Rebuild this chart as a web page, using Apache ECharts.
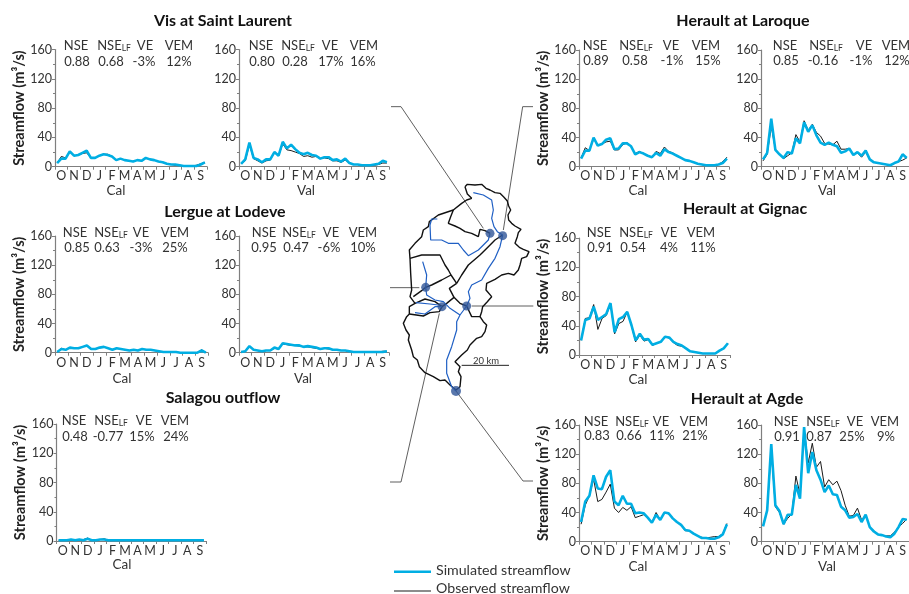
<!DOCTYPE html>
<html><head><meta charset="utf-8">
<script src="https://cdn.jsdelivr.net/npm/echarts@6/dist/echarts.min.js"></script>
<style>html,body{margin:0;padding:0;background:#fff}#c{width:909px;height:594px}</style>
</head><body><div id="c"></div>
<script>
// ---- chart values ----
const months = ['O','N','D','J','F','M','A','M','J','J','A','S'];
const yTicks = [0,40,80,120,160];
const metricNames = ['NSE','NSE{sub|LF}','VE','VEM'];

const simVisCal = [5,11,11,21,15,16,19,22,12,12,15,17,16,14,9,11,9,8,7,9,8,12,10,9,7,6,4,3,3,2,1,1,1,1,3,6];
const obsVisCal = [5,14,12,20,15,16,18,19,12,12,15,17,17,14,9,11,9,8,7,9,8,12,10,9,7,6,4,3,2,2,1,1,1,2,4,6];
const simVisVal = [4,10,33,12,10,6,10,10,20,15,34,25,30,24,19,17,19,16,15,11,13,13,9,10,7,11,5,3,3,2,2,2,3,4,8,6];
const obsVisVal = [4,8,30,11,8,5,8,9,20,15,31,23,22,20,18,14,15,13,14,11,12,11,8,8,6,9,5,3,3,2,2,2,2,3,5,5];
const simLerCal = [1,5,4,7,6,6,8,10,5,5,7,8,6,4,6,5,4,3,4,3,5,4,4,3,2,1,1,1,1,0,0,0,0,0,3,0];
const obsLerCal = [1,6,4,7,6,6,8,10,5,5,7,8,6,4,6,5,4,3,4,3,5,4,4,3,2,1,1,1,1,0,0,0,0,0,4,0];
const simLerVal = [1,2,9,4,3,2,3,3,7,5,13,12,11,10,10,8,9,8,7,5,6,6,4,4,3,3,2,1,1,1,1,1,1,1,1,2];
const obsLerVal = [1,2,8,4,3,2,3,3,6,5,12,11,10,10,9,8,8,7,6,5,6,5,4,4,3,3,2,1,1,1,1,1,1,1,2,2];
const simSalCal = [1,1,1,2,1,2,1,3,1,1,2,2,1,1,1,1,1,1,1,1,1,1,1,1,1,1,1,1,1,1,1,1,1,1,1,1];
const obsSalCal = [1,1,2,1,1,2,2,4,1,1,2,3,1,1,2,1,1,1,1,1,1,1,1,1,1,1,1,1,1,1,1,1,1,1,1,1];
const simLarCal = [11,22,22,40,29,31,37,39,24,25,32,32,28,17,20,18,15,13,19,15,24,20,18,15,12,9,8,6,4,3,2,2,2,3,5,11];
const obsLarCal = [12,26,22,38,30,31,34,35,23,23,30,33,28,18,21,18,15,13,21,18,27,21,19,15,12,9,8,6,4,3,2,2,3,3,7,13];
const simLarVal = [10,19,66,23,17,12,20,18,39,32,61,48,57,43,33,30,33,30,28,19,21,25,16,20,15,22,10,6,5,4,3,2,5,7,17,12];
const obsLarVal = [8,17,55,24,18,11,15,19,44,34,63,50,58,47,42,32,31,30,35,24,24,25,17,19,13,20,10,6,5,4,3,2,5,7,9,12];
const simGigCal = [20,48,50,66,48,52,56,71,31,49,52,59,41,20,29,21,22,14,16,18,25,24,18,15,13,9,5,4,3,2,2,2,2,6,9,16];
const obsGigCal = [20,50,51,69,35,50,54,70,29,43,46,59,40,18,27,19,21,13,16,18,25,23,17,13,12,9,5,4,3,2,2,2,2,6,10,16];
const simAgdCal = [27,55,63,91,73,72,89,98,55,50,63,52,52,39,40,39,33,26,37,30,40,39,32,27,23,16,15,11,8,5,5,4,4,6,10,24];
const obsAgdCal = [24,50,63,86,55,58,68,79,46,40,47,43,48,33,35,37,33,26,40,30,40,38,32,27,22,15,15,11,8,6,5,6,7,7,11,25];
const simAgdVal = [21,43,134,50,42,24,37,37,78,59,157,94,123,98,85,68,77,65,64,48,43,33,34,38,27,37,20,14,10,9,7,6,11,20,31,30];
const obsAgdVal = [22,43,125,48,40,24,32,38,90,65,155,108,135,102,110,75,85,78,83,70,50,35,36,46,30,36,20,15,10,9,8,8,13,20,25,31];

const metVisCal = ['0.88','0.68','-3%','12%'];
const metVisVal = ['0.80','0.28','17%','16%'];
const metLerCal = ['0.85','0.63','-3%','25%'];
const metLerVal = ['0.95','0.47','-6%','10%'];
const metSalCal = ['0.48','-0.77','15%','24%'];
const metLarCal = ['0.89','0.58','-1%','15%'];
const metLarVal = ['0.85','-0.16','-1%','12%'];
const metGigCal = ['0.91','0.54','4%','11%'];
const metAgdCal = ['0.83','0.66','11%','21%'];
const metAgdVal = ['0.91','0.87','25%','9%'];

// ---- catchment map geometry (map units) ----
const mapOutline = [[255,-10],[262,-17],[285,-15],[305,-17],[318,-5],[330,0],[345,8],[360,10],[372,22],[382,33],[386,48],[392,60],[384,75],[386,90],[395,100],[405,108],[423,118],[415,128],[412,140],[405,160],[418,172],[430,178],[447,185],[440,200],[425,205],[420,225],[415,240],[402,255],[385,250],[365,255],[345,268],[320,280],[318,300],[335,320],[322,335],[308,350],[305,365],[300,380],[310,395],[320,405],[315,425],[305,440],[290,445],[270,465],[262,480],[245,495],[225,515],[240,530],[235,545],[243,560],[240,590],[228,600],[210,585],[195,570],[180,572],[160,560],[135,548],[118,530],[112,510],[100,500],[95,480],[85,450],[88,435],[78,420],[70,400],[80,380],[88,372],[88,350],[105,340],[90,320],[95,300],[92,250],[90,205],[88,180],[105,160],[125,140],[130,120],[145,110],[148,95],[175,75],[220,60],[245,40],[260,30],[275,25],[262,12],[255,-10]];
const mapVisSub = [[220,60],[212,80],[205,100],[225,108],[240,115],[255,125],[275,130],[295,140],[300,118],[315,122],[330,130]];
const mapUpperDivide = [[368,135],[345,150],[325,170],[300,195],[265,225],[245,255],[230,280]];
const mapMidWest = [[90,205],[125,195],[160,195],[180,195],[195,225],[205,240],[213,255],[230,280]];
const mapLergueSub = [[213,255],[185,270],[155,285],[137,292],[125,302],[100,320]];
const mapSalagouTop = [[105,340],[135,327],[165,335],[186,350],[200,340],[222,322]];
const mapSalagouBot = [[88,372],[130,378],[150,368],[178,365],[186,350]];
const mapGignacWest = [[230,280],[208,295],[222,322],[240,340],[260,348],[275,380],[300,380]];
const riverVis = [[172,87],[155,87],[150,105],[152,150],[185,150],[205,160],[235,160],[250,180],[265,197],[295,180],[325,150],[330,130]];
const riverUpper = [[280,8],[310,15],[335,30],[340,60],[335,85],[342,110],[352,125],[368,135]];
const riverMain = [[368,135],[360,170],[345,205],[325,235],[305,270],[275,285],[265,305],[270,325],[260,348],[240,375],[230,395],[230,420],[215,470],[200,510],[200,550],[215,590],[228,603]];
const riverLergue = [[128,215],[140,255],[137,292],[140,315],[165,330],[190,335],[210,355],[240,375]];
const riverSalagou = [[105,368],[135,372],[165,350],[186,350]];
const riverSalagou2 = [[108,338],[150,342],[175,345]];
const leaderVis = [[33,-250],[63,-250],[310,115]];
const leaderLaroque = [[459,-250],[428,-250],[370,120]];
const leaderLergue = [[30,293],[118,293]];
const leaderGignac = [[275,348],[460,348]];
const leaderSalagou = [[30,876],[63,876],[178,370]];
const leaderAgde = [[228,603],[429,873],[459,873]];
const scaleBar = [[245,526],[387,526]];
const stations = [[330,130],[368,137],[137,292],[186,350],[260,348]];
const outletStation = [[228,603]];

// ---- layout and styles ----
const FONT = 'Lato, "Open Sans", sans-serif';
const TXT = '#333333', AXIS = '#7f7f7f', SIM = '#00AEE3', OBS = '#1a1a1a';
const panels = [
 {sim:simVisCal,obs:obsVisCal,met:metVisCal,lab:'Cal',x0:55,x1:207,yT:49.5,yB:166.7,name:24,labX:116,labY:191,mg:3,nx:[76,114,145,179],vx:[77,111,144,179],r1:46,r2:62},
 {sim:simVisVal,obs:obsVisVal,met:metVisVal,lab:'Val',x0:239,x1:389,yT:49.5,yB:166.7,name:0,labX:306,labY:191,mg:3,nx:[261,298,330,364],vx:[262,295,331,363],r1:46,r2:62},
 {sim:simLerCal,obs:obsLerCal,met:metLerCal,lab:'Cal',x0:55,x1:208,yT:236,yB:352.7,name:24,labX:122,labY:379,mg:4,nx:[75,111,141,175],vx:[77,107,141,175],r1:233,r2:248},
 {sim:simLerVal,obs:obsLerVal,met:metLerVal,lab:'Val',x0:239,x1:389,yT:236,yB:352.7,name:0,labX:303,labY:379,mg:4,nx:[264,299,331,363],vx:[264,296,329,363],r1:233,r2:248},
 {sim:simSalCal,obs:obsSalCal,met:metSalCal,lab:'Cal',x0:56.5,x1:206,yT:424,yB:541,name:26,labX:122,labY:565,mg:3,nx:[74,111,144,175],vx:[75,108,142,176],r1:421,r2:437},
 {sim:simLarCal,obs:obsLarCal,met:metLarCal,lab:'Cal',x0:579,x1:729,yT:50,yB:166.7,name:21,labX:638,labY:191,mg:3,nx:[595,636,671,706],vx:[596,635,672,708],r1:46,r2:61},
 {sim:simLarVal,obs:obsLarVal,met:metLarVal,lab:'Val',x0:761,x1:909,yT:50,yB:166.7,name:0,labX:827,labY:191,mg:3,nx:[785,826,864,896],vx:[786,823,861,897],r1:46,r2:61},
 {sim:simGigCal,obs:obsGigCal,met:metGigCal,lab:'Cal',x0:579,x1:730,yT:238,yB:355,name:21,labX:638,labY:380,mg:3,nx:[599,636,669,701],vx:[600,633,669,703],r1:233,r2:248},
 {sim:simAgdCal,obs:obsAgdCal,met:metAgdCal,lab:'Cal',x0:579,x1:729,yT:425,yB:541.7,name:21,labX:638,labY:567,mg:3,nx:[596,632,661,694],vx:[597,629,662,695],r1:422,r2:436},
 {sim:simAgdVal,obs:obsAgdVal,met:metAgdVal,lab:'Val',x0:761,x1:909,yT:425,yB:541.7,name:0,labX:827,labY:567,mg:3,nx:[786,823,855,885],vx:[787,819,852,886],r1:422,r2:437}
];
const titles = [
 ['Vis at Saint Laurent',223,21],['Lergue at Lodeve',225,212],['Salagou outflow',223,398],
 ['Herault at Laroque',743,21],['Herault at Gignac',745,209],['Herault at Agde',747,399]
];

// ---- option assembly ----
const grid=[],xAxis=[],yAxis=[],series=[],graphic=[];
const xy = arr => arr.map((v,i)=>[i+0.5,v]);
const text = (t,x,y,size=13)=>({type:'text',x,y,silent:true,style:{text:t,align:'center',verticalAlign:'middle',fontFamily:FONT,fontSize:size,fill:TXT,
   rich:{sub:{fontFamily:FONT,fontSize:8.5,fill:TXT,verticalAlign:'bottom',padding:[5,0,0,0]}}}});
panels.forEach((p,i)=>{
  grid.push({left:p.x0,top:p.yT,width:p.x1-p.x0,height:p.yB-p.yT,containLabel:false});
  const ax=2*i;
  xAxis.push({type:'value',gridIndex:i,position:'bottom',min:0,max:36,interval:3,splitLine:{show:false},
     axisLine:{onZero:false,lineStyle:{color:AXIS,width:1.2}},axisTick:{length:3,lineStyle:{color:AXIS}},axisLabel:{show:false}});
  xAxis.push({type:'category',gridIndex:i,position:'bottom',data:months,boundaryGap:true,
     axisLine:{show:false},axisTick:{show:false},
     axisLabel:{interval:0,margin:p.mg,fontFamily:FONT,fontSize:12.5,color:TXT}});
  yAxis.push({type:'value',gridIndex:i,min:yTicks[0],max:yTicks[yTicks.length-1],interval:yTicks[1]-yTicks[0],splitLine:{show:false},
     axisLine:{show:true,lineStyle:{color:AXIS,width:1.2}},axisTick:{show:true,length:3,lineStyle:{color:AXIS}},
     minorTick:{show:true,splitNumber:2,length:2,lineStyle:{color:AXIS}},
     axisLabel:{margin:3,fontFamily:FONT,fontSize:12.5,color:TXT},
     name:p.name?'Streamflow (m³/s)':'',nameLocation:'middle',nameGap:p.name,nameRotate:90,
     nameTextStyle:{fontFamily:FONT,fontSize:14.6,fontWeight:'bold',color:'#222'}});
  series.push({name:'Observed streamflow',type:'line',xAxisIndex:ax,yAxisIndex:i,data:xy(p.obs),showSymbol:false,symbol:'none',
     lineStyle:{color:OBS,width:1},itemStyle:{color:OBS},z:2,silent:true,animation:false});
  series.push({name:'Simulated streamflow',type:'line',xAxisIndex:ax,yAxisIndex:i,data:xy(p.sim),showSymbol:false,symbol:'none',
     lineStyle:{color:SIM,width:2.6},itemStyle:{color:SIM},z:3,silent:true,animation:false});
  metricNames.forEach((n,k)=>{graphic.push(text(n,p.nx[k],p.r1)); graphic.push(text(p.met[k],p.vx[k],p.r2));});
  graphic.push(text(p.lab,p.labX,p.labY,13.5));
});

// hidden map plot: its own grid and axes
const mi=panels.length;
grid.push({left:380,top:95,width:160,height:395});
xAxis.push({type:'value',gridIndex:mi,min:0,max:480,show:false});
yAxis.push({type:'value',gridIndex:mi,min:-285,max:900,inverse:true,show:false});
const mapLine=(d,color,w,z=5)=>series.push({type:'line',xAxisIndex:2*mi,yAxisIndex:mi,data:d,symbol:'none',silent:true,animation:false,clip:false,
   lineStyle:{color,width:w},z});
[leaderVis,leaderLaroque,leaderLergue,leaderGignac,leaderSalagou,leaderAgde].forEach(d=>mapLine(d,'#4d4d4d',0.9,4));
[mapOutline,mapVisSub,mapUpperDivide,mapMidWest,mapLergueSub,mapSalagouTop,mapSalagouBot,mapGignacWest].forEach(d=>mapLine(d,'#111',1.4,5));
[riverVis,riverUpper,riverMain,riverLergue,riverSalagou,riverSalagou2].forEach(d=>mapLine(d,'#1f5fc4',1.2,6));
mapLine(scaleBar,'#222',1,5);
series.push({type:'scatter',xAxisIndex:2*mi,yAxisIndex:mi,data:stations,symbolSize:9,itemStyle:{color:'#2f5597'},z:7,silent:true,animation:false,clip:false});
series.push({type:'scatter',xAxisIndex:2*mi,yAxisIndex:mi,data:outletStation,symbolSize:10,itemStyle:{color:'#2f5597'},z:7,silent:true,animation:false,clip:false});
graphic.push(text('20 km',486,361,9.5));

// legend line icons: corner dots stretch the path box so the bar keeps its thickness
const barIcon=(a,b)=>`path://M0 0H0.1V0.1H0Z M0 ${a}H100V${b}H0Z M99.9 99.9H100V100H99.9Z`;
const option={
  backgroundColor:'#fff',animation:false,
  title:titles.map(([t,x,y])=>({text:t,left:x,top:y,textAlign:'center',textVerticalAlign:'middle',padding:0,
     textStyle:{fontFamily:FONT,fontSize:16,fontWeight:'bold',color:'#111'}})),
  legend:{data:[{name:'Simulated streamflow',icon:barIcon(55,81)},{name:'Observed streamflow',icon:barIcon(75,85)}],
     orient:'vertical',left:394,top:563,height:36,padding:0,itemWidth:37,itemHeight:10,itemGap:4,symbolKeepAspect:false,
     textStyle:{fontFamily:FONT,fontSize:14.2,color:TXT},selectedMode:false},
  grid,xAxis,yAxis,series,graphic
};
echarts.init(document.getElementById('c'),null,{renderer:'canvas'}).setOption(option);
</script></body></html>
